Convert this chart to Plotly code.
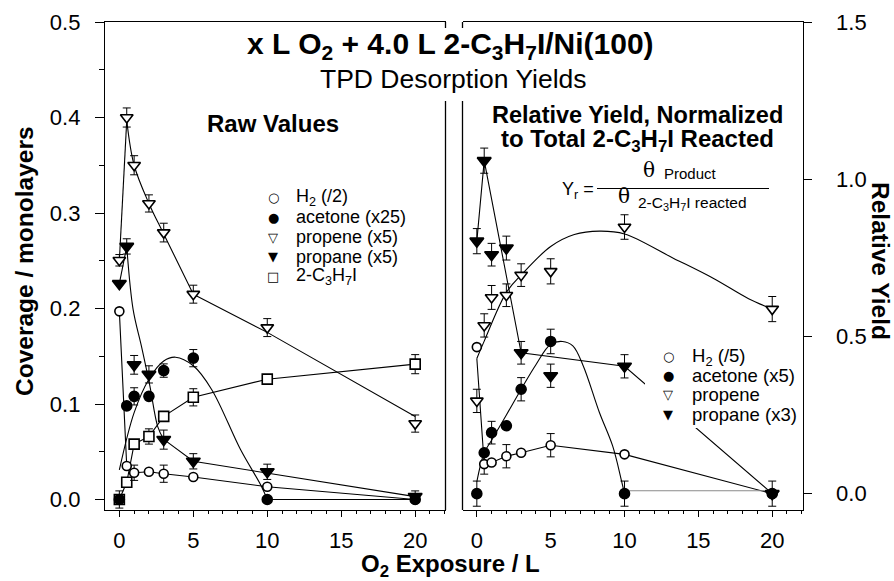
import plotly.graph_objects as go

W, H = 894, 581
FONT = "Liberation Sans, Arial, sans-serif"

# O2 exposure (L) for every series
exposure = [0, 0.5, 1, 2, 3, 5, 10, 20]

# ---- Raw coverages (monolayers) ----
h2_raw = [0.197, 0.035, 0.028, 0.029, 0.027, 0.0235, 0.0133, 0.0]
acetone_raw = [0.0, 0.098, 0.108, 0.108, 0.135, 0.148, 0.0, 0.0]
propene_raw = [0.2505, 0.400, 0.350, 0.310, 0.2795, 0.215, 0.180, 0.0795]
propane_raw = [0.226, 0.265, 0.141, 0.131, 0.0627, 0.040, 0.029, 0.003]
c3h7i_raw = [0.0, 0.018, 0.058, 0.066, 0.087, 0.107, 0.126, 0.1417]

h2_raw_err = [None, None, 0.008, None, 0.009, None, None, None]
acetone_raw_err = [None, None, 0.009, None, 0.007, 0.009, None, None]
propene_raw_err = [0.006, 0.010, 0.010, 0.009, 0.0098, 0.0094, 0.0094, 0.009]
propane_raw_err = [None, 0.008, 0.0098, 0.009, 0.010, 0.008, 0.008, 0.006]
c3h7i_raw_err = [0.009, None, None, 0.008, None, 0.009, None, 0.010]

# ---- Relative yields ----
h2_rel = [0.466, 0.094, 0.099, 0.119, 0.130, 0.154, 0.125, 0.0]
acetone_rel = [0.0, 0.130, 0.194, 0.216, 0.332, 0.484, 0.0, 0.0]
propene_rel = [0.295, 0.535, 0.624, 0.631, 0.695, 0.707, 0.848, 0.587]
propane_rel = [0.803, 1.059, 0.760, 0.781, 0.448, 0.375, 0.405, 0.0]

h2_rel_err = [None, 0.032, None, 0.037, None, 0.037, None, None]
acetone_rel_err = [0.040, None, 0.036, None, 0.037, 0.039, 0.040, None]
propene_rel_err = [0.037, 0.037, 0.038, 0.036, 0.036, 0.040, 0.039, 0.040]
propane_rel_err = [0.040, 0.040, 0.036, 0.038, 0.036, 0.037, 0.037, 0.040]

# ---- Guide curves drawn through the raw data ----
propene_raw_rise_x, propene_raw_rise_y = [0, 0.5], [0.250, 0.397]
propene_raw_decay_x, propene_raw_decay_y = [0.5, 1, 2, 3, 5], [0.397, 0.350, 0.310, 0.278, 0.215]
propene_raw_tail_x, propene_raw_tail_y = [5, 10, 20], [0.215, 0.175, 0.087]

propane_raw_rise_x, propane_raw_rise_y = [0, 0.5], [0.226, 0.265]
propane_raw_decay_x, propane_raw_decay_y = [0.5, 0.93, 1.5, 2.05, 2.6, 3], [0.265, 0.199, 0.160, 0.120, 0.076, 0.063]
propane_raw_tail_x, propane_raw_tail_y = [3, 5, 20], [0.063, 0.040, 0.003]

acetone_raw_fit_x = [0, 1, 2, 3, 3.8, 5, 6.25, 8.2, 9.6, 10]
acetone_raw_fit_y = [0.031, 0.091, 0.126, 0.145, 0.149, 0.140, 0.115, 0.052, 0.014, 0.0]
acetone_raw_tail_x, acetone_raw_tail_y = [10, 20], [0.0, 0.0]

# ---- Guide curves drawn through the relative yields ----
h2_rel_fit_x = [0, 0.5, 1, 2, 3, 5, 10, 20]
h2_rel_fit_y = [0.430, 0.094, 0.099, 0.119, 0.130, 0.154, 0.125, 0.0]

acetone_rel_fit_x = [0, 0.5, 1, 2, 3, 4, 5, 5.8, 6.5, 7.2, 8.3, 9.2, 9.78, 10]
acetone_rel_fit_y = [0.038, 0.130, 0.170, 0.250, 0.332, 0.410, 0.475, 0.484, 0.470, 0.407, 0.258, 0.151, 0.044, 0.0]
acetone_rel_tail_x, acetone_rel_tail_y = [10, 20], [0.009, 0.009]

propene_rel_fit_x = [0, 0.5, 2, 3, 5, 6.6, 8.3, 10, 13.3, 16, 18.4, 20]
propene_rel_fit_y = [0.430, 0.485, 0.640, 0.695, 0.786, 0.824, 0.835, 0.826, 0.749, 0.685, 0.620, 0.587]

propane_rel_fit_x = [0, 0.5, 3, 10, 20]
propane_rel_fit_y = [0.803, 1.059, 0.448, 0.405, 0.0]

# tick labels
raw_ticks = [0.0, 0.1, 0.2, 0.3, 0.4, 0.5]
rel_ticks = [0.0, 0.5, 1.0, 1.5]
exposure_ticks = [0, 5, 10, 15, 20]

fig = go.Figure()


def curve(xs, ys, xa, ya, shape="linear", color="black"):
    fig.add_trace(go.Scatter(
        x=xs, y=ys, xaxis=xa, yaxis=ya, mode="lines",
        line=dict(color=color, width=1.1, shape=shape, smoothing=1.0),
        hoverinfo="skip", showlegend=False))


def points(ys, errs, symbol, size, fill, xa, ya):
    fig.add_trace(go.Scatter(
        x=exposure, y=ys, xaxis=xa, yaxis=ya, mode="markers",
        marker=dict(symbol=symbol, size=size, color=fill,
                    line=dict(color="black", width=1.6)),
        error_y=dict(type="data", array=errs, visible=True,
                     color="black", thickness=1, width=4),
        showlegend=False))


# left panel curves
curve(exposure, h2_raw, "x", "y")
curve(exposure, c3h7i_raw, "x", "y")
curve(propene_raw_rise_x, propene_raw_rise_y, "x", "y")
curve(propene_raw_decay_x, propene_raw_decay_y, "x", "y", "spline")
curve(propene_raw_tail_x, propene_raw_tail_y, "x", "y")
curve(propane_raw_rise_x, propane_raw_rise_y, "x", "y")
curve(propane_raw_decay_x, propane_raw_decay_y, "x", "y", "spline")
curve(propane_raw_tail_x, propane_raw_tail_y, "x", "y")
curve(acetone_raw_fit_x, acetone_raw_fit_y, "x", "y", "spline")
curve(acetone_raw_tail_x, acetone_raw_tail_y, "x", "y")

# left panel points
points(c3h7i_raw, c3h7i_raw_err, "square", 10, "white", "x", "y")
points(h2_raw, h2_raw_err, "circle", 9, "white", "x", "y")
points(acetone_raw, acetone_raw_err, "circle", 10, "black", "x", "y")
points(propene_raw, propene_raw_err, "triangle-down", 11, "white", "x", "y")
points(propane_raw, propane_raw_err, "triangle-down", 12, "black", "x", "y")

# right panel curves
curve(h2_rel_fit_x, h2_rel_fit_y, "x2", "y2")
curve(acetone_rel_fit_x, acetone_rel_fit_y, "x2", "y2", "spline")
curve(acetone_rel_tail_x, acetone_rel_tail_y, "x2", "y2", color="#8a8a8a")
curve(propene_rel_fit_x, propene_rel_fit_y, "x2", "y2", "spline")
curve(propane_rel_fit_x, propane_rel_fit_y, "x2", "y2")

# right panel points
points(h2_rel, h2_rel_err, "circle", 9, "white", "x2", "y2")
points(acetone_rel, acetone_rel_err, "circle", 10, "black", "x2", "y2")
points(propene_rel, propene_rel_err, "triangle-down", 11, "white", "x2", "y2")
points(propane_rel, propane_rel_err, "triangle-down", 12, "black", "x2", "y2")


def px(x):
    return x / W


def py(y):
    return 1 - y / H


TOP, BOTTOM = 22, 510
LEFT_A, RIGHT_A = 105, 445.5
LEFT_B, RIGHT_B = 462.5, 802.5

tick_font = dict(family=FONT, size=22, color="black")
xcommon = dict(range=[-0.97, 22.05], tickvals=exposure_ticks, ticks="outside",
               ticklen=6, tickwidth=1.2, tickcolor="black", showline=True,
               linecolor="black", linewidth=1.3, mirror=True, showgrid=False,
               zeroline=False, tickfont=tick_font, ticklabelstandoff=4,
               automargin=False,
               minor=dict(dtick=1, ticks="outside", ticklen=3, tickwidth=1,
                          tickcolor="black", showgrid=False))

fig.update_layout(
    template="none",
    width=W, height=H, margin=dict(l=0, r=0, t=0, b=0, autoexpand=False),
    paper_bgcolor="white", plot_bgcolor="white", showlegend=False,
    xaxis=dict(domain=[px(LEFT_A), px(RIGHT_A)], anchor="y", **xcommon),
    xaxis2=dict(domain=[px(LEFT_B), px(RIGHT_B)], anchor="y2", **xcommon),
    yaxis=dict(domain=[py(BOTTOM), py(TOP)], anchor="x", range=[-0.011, 0.5],
               tickvals=raw_ticks, tickformat=".1f", ticks="outside",
               ticklen=9, tickwidth=1.2, tickcolor="black", showline=True,
               linecolor="black", linewidth=1.3, showgrid=False,
               zeroline=False, tickfont=tick_font, ticklabelstandoff=10,
               automargin=False,
               minor=dict(dtick=0.05, ticks="outside", ticklen=5,
                          tickwidth=1, tickcolor="black", showgrid=False)),
    yaxis2=dict(domain=[py(BOTTOM), py(TOP)], anchor="x2", side="right",
                range=[-0.052, 1.5], tickvals=rel_ticks, tickformat=".1f",
                ticks="outside", ticklen=8, tickwidth=1.2, tickcolor="black",
                showline=True, linecolor="black", linewidth=1.3,
                showgrid=False, zeroline=False, tickfont=tick_font,
                ticklabelstandoff=20, automargin=False),
)

shapes = []
# inner panel borders, interrupted by the title block
for xb in (RIGHT_A, LEFT_B):
    for (y0, y1) in ((TOP, 28), (101, BOTTOM)):
        shapes.append(dict(type="line", xref="paper", yref="paper",
                           x0=px(xb), x1=px(xb), y0=py(y0), y1=py(y1),
                           line=dict(color="black", width=1.3)))
# fraction bar of the yield definition
shapes.append(dict(type="line", xref="paper", yref="paper",
                   x0=px(597), x1=px(769), y0=py(188.5), y1=py(188.5),
                   line=dict(color="black", width=1)))
# white backing behind the right-hand key
shapes.append(dict(type="rect", xref="paper", yref="paper", layer="above",
                   x0=px(645), x1=px(775), y0=py(428), y1=py(345),
                   fillcolor="white", line=dict(width=0)))
fig.update_layout(shapes=shapes)

ann = []


def text(s, x, y, size, bold=False, xanchor="center", yanchor="middle",
         angle=0, family=FONT):
    if bold:
        s = "<b>" + s + "</b>"
    ann.append(dict(text=s, x=px(x), y=py(y), xref="paper", yref="paper",
                    showarrow=False, xanchor=xanchor, yanchor=yanchor,
                    textangle=angle,
                    font=dict(family=family, size=size, color="black")))


text("x L O<sub>2</sub> + 4.0 L 2-C<sub>3</sub>H<sub>7</sub>I/Ni(100)", 450, 45, 30, bold=True)
text("TPD Desorption Yields", 453, 79, 26.5)
text("Raw Values", 273, 124, 24, bold=True)
text("Relative Yield, Normalized", 637, 115, 23.5, bold=True)
text("to Total 2-C<sub>3</sub>H<sub>7</sub>I Reacted", 637, 140, 24, bold=True)

# yield definition
text("Y<sub>r</sub> =", 596, 190, 18, xanchor="right")
text("θ", 649, 170, 20, family="DejaVu Serif, serif")
text("Product", 662, 173, 15, xanchor="left")
text("θ", 624, 196, 20, family="DejaVu Serif, serif")
text("2-C<sub>3</sub>H<sub>7</sub>I reacted", 636, 203, 15.5, xanchor="left")

# axis titles
text("Coverage / monolayers", 25, 261, 24.5, bold=True, angle=-90)
text("Relative Yield", 880, 261, 24.5, bold=True, angle=90)
text("O<sub>2</sub> Exposure / L", 450, 565, 24, bold=True)

# keys
left_key = [("○", "H<sub>2</sub> (/2)"), ("●", "acetone (x25)"),
            ("▽", "propene (x5)"), ("▼", "propane (x5)"),
            ("□", "2-C<sub>3</sub>H<sub>7</sub>I")]
left_rows = [197.3, 217.3, 237.3, 256.7, 276.7]
for (sym, lab), yy in zip(left_key, left_rows):
    text(sym, 273, yy, 13, family="DejaVu Sans")
    text(lab, 294, yy, 18, xanchor="left")

right_key = [("○", "H<sub>2</sub> (/5)"), ("●", "acetone (x5)"),
             ("▽", "propene"), ("▼", "propane (x3)")]
right_rows = [356.7, 375.5, 394.5, 414.3]
for (sym, lab), yy in zip(right_key, right_rows):
    text(sym, 668, yy, 13, family="DejaVu Sans")
    text(lab, 690, yy, 18.5, xanchor="left")

fig.update_layout(annotations=ann)
# the page body carries no margin so the figure fills the window exactly
fig.write_html("out.html", post_script="document.body.style.margin='0px';")
